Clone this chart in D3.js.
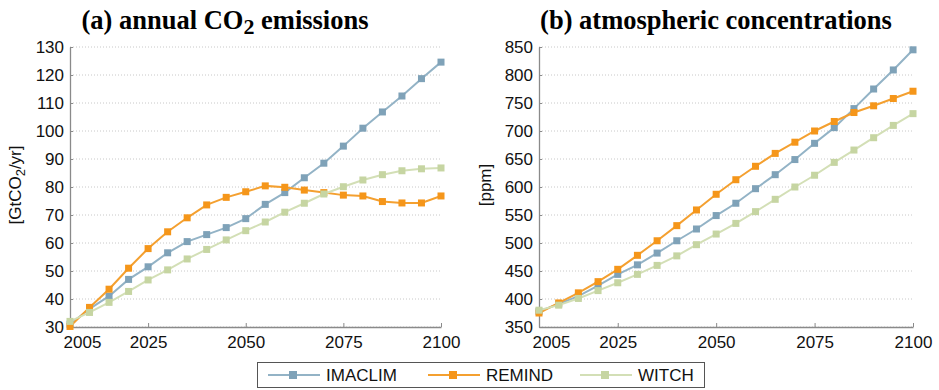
<!DOCTYPE html>
<html lang="en">
<head>
<meta charset="UTF-8">
<title>CO2 emissions and concentrations</title>
<script src="https://d3js.org/d3.v7.min.js"></script>
<style>
  body { margin: 0; background: #fff; }
  svg { display: block; }
</style>
</head>
<body>
<div id="chart"></div>
<script>
// data
const years = [2005, 2010, 2015, 2020, 2025, 2030, 2035, 2040, 2045, 2050,
               2055, 2060, 2065, 2070, 2075, 2080, 2085, 2090, 2095, 2100];
const models = ["IMACLIM", "REMIND", "WITCH"];

const imaclimCO2 = [31, 36.5, 41, 47, 51.5, 56.5, 60.5, 63, 65.5, 68.7,
                    73.8, 78, 83.3, 88.5, 94.6, 101, 106.8, 112.5, 118.7, 124.6];
const remindCO2  = [30.2, 37, 43.5, 51, 58, 64, 69, 73.6, 76.3, 78.3,
                    80.4, 79.9, 78.9, 78, 77.1, 76.8, 74.8, 74.3, 74.3, 76.8];
const witchCO2   = [32, 35.2, 38.8, 42.7, 46.8, 50.4, 54.3, 57.7, 61.1, 64.4,
                    67.5, 71, 74.2, 77.5, 80.1, 82.5, 84.4, 85.8, 86.5, 86.8];

const imaclimPpm = [378, 391, 405, 424, 444, 461, 482, 504, 525, 549,
                    571, 597, 622, 649, 678, 706, 740, 775, 809, 845];
const remindPpm  = [375, 393, 411, 431, 453, 478, 504, 531, 559, 587,
                    613, 637, 660, 680, 700, 717, 733, 745, 758, 771];
const witchPpm   = [380, 389, 401, 415, 429, 444, 460, 477, 497, 516,
                    535, 556, 578, 600, 621, 644, 666, 688, 710, 731];

const xTicks = [2005, 2025, 2050, 2075, 2100];
const co2Ticks = [30, 40, 50, 60, 70, 80, 90, 100, 110, 120, 130];
const ppmTicks = [350, 400, 450, 500, 550, 600, 650, 700, 750, 800, 850];

const lineColor   = {IMACLIM: "#93b3c6", REMIND: "#f4a030", WITCH: "#d3dfb6"};
const markerColor = {IMACLIM: "#7fa2b8", REMIND: "#f5961a", WITCH: "#c6d5a2"};

const W = 939, H = 390;
const svg = d3.select("#chart").append("svg")
    .attr("width", W).attr("height", H);

function drawPanel(opt) {
  const x = d3.scaleLinear().domain([2005, 2100]).range([opt.left, opt.right]);
  const y = d3.scaleLinear().domain(opt.domain).range([327, 47]);
  const g = svg.append("g");

  // dotted grid
  g.append("g").selectAll("line")
    .data(opt.yTicks)
    .join("line")
      .attr("x1", opt.left).attr("x2", opt.right)
      .attr("y1", d => y(d)).attr("y2", d => y(d))
      .attr("stroke", "#c8c8c8")
      .attr("stroke-width", 1)
      .attr("stroke-dasharray", "1,2");

  // y axis
  const yAxis = g.append("g")
      .attr("transform", `translate(${opt.left},0)`)
      .call(d3.axisLeft(y).tickValues(opt.yTicks).tickSizeInner(-3).tickSizeOuter(0).tickPadding(6));
  // x axis
  const xAxis = g.append("g")
      .attr("transform", `translate(0,${y(opt.domain[0])})`)
      .call(d3.axisBottom(x).tickValues(xTicks).tickFormat(d3.format("d"))
              .tickSizeInner(-4).tickSizeOuter(0).tickPadding(9));
  [yAxis, xAxis].forEach(a => {
    a.select(".domain").attr("stroke", "#8a8a8a").attr("stroke-width", 1.3);
    a.selectAll(".tick line").attr("stroke", "#8a8a8a");
    a.selectAll("text")
      .attr("fill", "#111")
      .style("font-family", "'Liberation Sans', Arial, sans-serif")
      .style("font-size", "17px");
  });
  xAxis.selectAll(".tick").filter(d => d === 2005).select("text").attr("dx", 12);

  // series
  opt.series.forEach((vals, i) => {
    const m = models[i];
    const pts = years.map((yr, j) => [yr, vals[j]]);
    g.append("path")
      .datum(pts)
      .attr("fill", "none")
      .attr("stroke", lineColor[m])
      .attr("stroke-width", 2)
      .attr("d", d3.line().x(d => x(d[0])).y(d => y(d[1])));
    g.append("g").selectAll("rect")
      .data(pts)
      .join("rect")
        .attr("x", d => x(d[0]) - 3.5)
        .attr("y", d => y(d[1]) - 3.5)
        .attr("width", 7).attr("height", 7)
        .attr("fill", markerColor[m]);
  });

  // title
  const t = g.append("text")
      .attr("x", opt.titleX).attr("y", 29)
      .attr("text-anchor", "middle")
      .style("font-family", "'Liberation Serif', 'Times New Roman', serif")
      .style("font-weight", "bold")
      .style("font-size", "26.5px");
  opt.title.forEach(p => {
    const s = t.append("tspan").text(p.text);
    if (p.sub) s.attr("dy", 5).style("font-size", "22px");
    else if (p.after) s.attr("dy", -5);
  });

  // y label
  const yl = g.append("text")
      .attr("transform", `translate(${opt.ylabelX},185) rotate(-90)`)
      .attr("text-anchor", "middle")
      .attr("fill", "#111")
      .style("font-family", "'Liberation Sans', Arial, sans-serif")
      .style("font-size", "17px");
  opt.ylabel.forEach(p => {
    const s = yl.append("tspan").text(p.text);
    if (p.sub) s.attr("dy", 4).style("font-size", "13px");
    else if (p.after) s.attr("dy", -4);
  });
}

drawPanel({
  left: 70, right: 441, domain: [30, 130], yTicks: co2Ticks,
  series: [imaclimCO2, remindCO2, witchCO2],
  titleX: 225,
  title: [{text: "(a) annual CO"}, {text: "2", sub: true}, {text: " emissions", after: true}],
  ylabelX: 21,
  ylabel: [{text: "[GtCO"}, {text: "2", sub: true}, {text: "/yr]", after: true}]
});

drawPanel({
  left: 539, right: 913, domain: [350, 850], yTicks: ppmTicks,
  series: [imaclimPpm, remindPpm, witchPpm],
  titleX: 716,
  title: [{text: "(b) atmospheric concentrations"}],
  ylabelX: 491,
  ylabel: [{text: "[ppm]"}]
});

// legend
const legend = svg.append("g");
legend.append("rect")
  .attr("x", 257.5).attr("y", 362.5)
  .attr("width", 447).attr("height", 25)
  .attr("fill", "#fff")
  .attr("stroke", "#555").attr("stroke-width", 1);
const legX = [268, 428, 580];
models.forEach((m, i) => {
  const lg = legend.append("g").attr("transform", `translate(${legX[i]},375)`);
  lg.append("line").attr("x1", 0).attr("x2", 52)
    .attr("stroke", lineColor[m]).attr("stroke-width", 2);
  lg.append("rect").attr("x", 21).attr("y", -4).attr("width", 8).attr("height", 8)
    .attr("fill", markerColor[m]);
  lg.append("text").attr("x", 58).attr("y", 6)
    .attr("fill", "#111")
    .style("font-family", "'Liberation Sans', Arial, sans-serif")
    .style("font-size", "17px")
    .text(m);
});
</script>
</body>
</html>
